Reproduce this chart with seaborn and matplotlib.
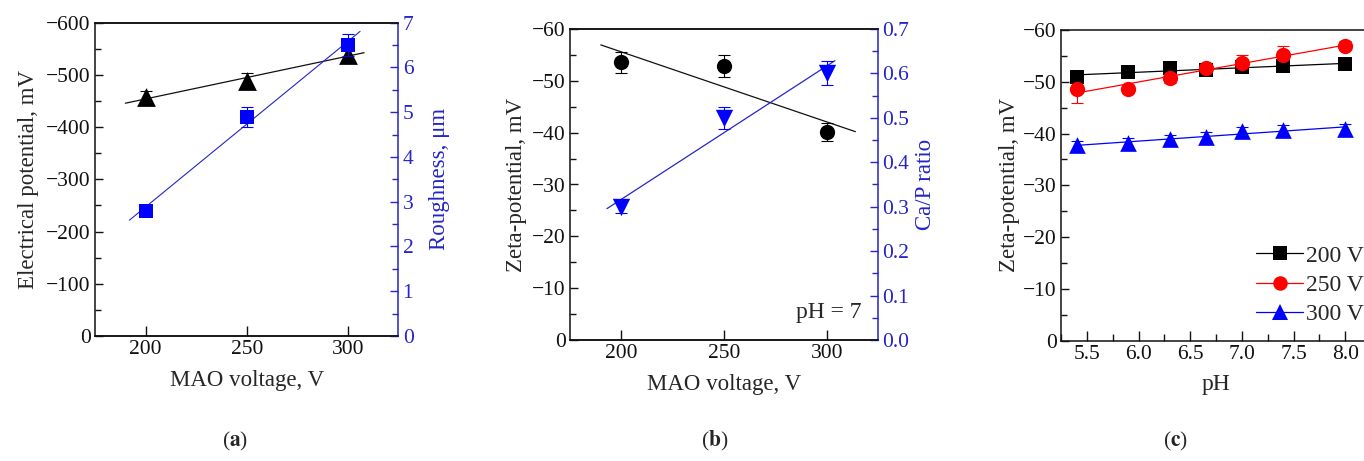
import numpy as np
import pandas as pd
import matplotlib
matplotlib.use("Agg")
import matplotlib.pyplot as plt
import seaborn as sns
from matplotlib.ticker import MultipleLocator, FormatStrFormatter
from matplotlib.lines import Line2D

# ---------------- data ----------------
voltage = [200, 250, 300]
elec_potential = [-457, -489, -539]
elec_err = [13, 15, 13]
roughness = [2.8, 4.9, 6.5]
rough_err = [0.05, 0.22, 0.25]

zeta_ph7 = [-53.6, -52.8, -40.1]
zeta_ph7_err = [2.0, 2.1, 1.8]
ca_p = [0.30, 0.50, 0.60]
ca_p_err = [0.015, 0.025, 0.027]

ph = [5.4, 5.9, 6.3, 6.65, 7.0, 7.4, 8.0]
zeta_200 = [-51.0, -51.8, -52.6, -52.3, -52.8, -53.0, -53.4]
zeta_200_err = [1.0, 0.6, 0.8, 0.8, 0.8, 1.0, 0.6]
zeta_250 = [-48.6, -48.6, -50.7, -52.6, -53.6, -55.2, -57.0]
zeta_250_err = [2.7, 0.8, 1.0, 0.8, 1.5, 1.8, 0.8]
zeta_300 = [-37.7, -38.2, -38.9, -39.4, -40.4, -40.7, -40.9]
zeta_300_err = [0.9, 0.9, 0.9, 0.9, 0.9, 0.9, 0.9]
series_labels = ["200 V", "250 V", "300 V"]

BLUE = "#0000ff"
AXBLUE = "#2525c8"
RED = "#ff0000"

sns.set_theme(style="ticks")
plt.rcParams["font.family"] = ["Liberation Serif", "DejaVu Serif"]
plt.rcParams["mathtext.fontset"] = "stix"
plt.rcParams["axes.linewidth"] = 1.1
plt.rcParams["axes.edgecolor"] = "#111111"

TICK_FS = 15.5
LAB_FS = 16.5

fig = plt.figure(figsize=(13.64, 4.61), dpi=100)
W, H = 1364.0, 461.0


def axes_px(l, t, r, b):
    return fig.add_axes([l / W, 1 - b / H, (r - l) / W, (b - t) / H])


def style_axis(ax, color="#111111", which="y"):
    ax.tick_params(axis=which, which="major", direction="in", length=6, width=1.0,
                   labelsize=TICK_FS, colors=color, pad=3)
    ax.tick_params(axis=which, which="minor", direction="in", length=4, width=1.0,
                   colors=color)


def fit_line(ax, x, y, color, lo, hi, lw=0.9):
    k, b = np.polyfit(x, y, 1)
    xs = np.array([lo, hi])
    d = pd.DataFrame({"x": xs, "y": k * xs + b})
    sns.lineplot(data=d, x="x", y="y", ax=ax, color=color, lw=lw, legend=False)


def points(ax, x, y, err, color, marker, size, zorder=5, cap=4.5):
    ax.errorbar(x, y, yerr=err, fmt="none", ecolor=color, elinewidth=0.8,
                capsize=cap, capthick=0.8, zorder=zorder - 1)
    d = pd.DataFrame({"x": x, "y": y})
    sns.scatterplot(data=d, x="x", y="y", ax=ax, color=color, marker=marker,
                    s=size ** 2, edgecolor=color, linewidth=0, zorder=zorder,
                    legend=False)


# ---------------- panel (a) ----------------
axa = axes_px(95, 22.7, 398.5, 336)
axa2 = axa.twinx()
fit_line(axa, voltage, elec_potential, "#111111", min(voltage) - 10, max(voltage) + 8)
points(axa, voltage, elec_potential, elec_err, "black", "^", 13.5)
fit_line(axa2, voltage, roughness, AXBLUE, min(voltage) - 8, max(voltage) + 6, lw=0.8)
points(axa2, voltage, roughness, rough_err, BLUE, "s", 10)

axa.set_xlim(175, 325)
axa.set_ylim(0, -600)
axa.set_yticks([0, -100, -200, -300, -400, -500, -600])
axa.yaxis.set_minor_locator(MultipleLocator(50))
axa.set_xticks(voltage)
axa2.set_ylim(0, 7)
axa2.yaxis.set_major_locator(MultipleLocator(1))
axa2.yaxis.set_minor_locator(MultipleLocator(0.5))
style_axis(axa, which="y")
style_axis(axa, which="x")
axa.tick_params(axis="x", which="major", length=7)
style_axis(axa2, color=AXBLUE, which="y")
axa.spines["right"].set_visible(False)
axa2.spines["right"].set_color(AXBLUE)
axa2.spines["left"].set_visible(False)
axa.set_xlabel("MAO voltage, V", fontsize=LAB_FS, labelpad=8)
axa.set_ylabel("Electrical potential, mV", fontsize=LAB_FS, labelpad=5)
axa2.set_ylabel("Roughness, μm", fontsize=LAB_FS, color=AXBLUE, labelpad=11)

# ---------------- panel (b) ----------------
axb = axes_px(570, 29, 878, 340)
axb2 = axb.twinx()
fit_line(axb, voltage, zeta_ph7, "#111111", min(voltage) - 10, max(voltage) + 14)
points(axb, voltage, zeta_ph7, zeta_ph7_err, "black", "o", 11)
fit_line(axb2, voltage, ca_p, AXBLUE, min(voltage) - 7, max(voltage) + 4)
points(axb2, voltage, ca_p, ca_p_err, BLUE, "v", 12.5)

axb.set_xlim(175, 325)
axb.set_ylim(0, -60)
axb.set_yticks([0, -10, -20, -30, -40, -50, -60])
axb.yaxis.set_minor_locator(MultipleLocator(5))
axb.set_xticks(voltage)
axb2.set_ylim(0, 0.7)
axb2.yaxis.set_major_locator(MultipleLocator(0.1))
axb2.yaxis.set_minor_locator(MultipleLocator(0.05))
axb2.yaxis.set_major_formatter(FormatStrFormatter("%.1f"))
style_axis(axb, which="y")
style_axis(axb, which="x")
axb.tick_params(axis="x", which="major", length=7)
style_axis(axb2, color=AXBLUE, which="y")
axb.spines["right"].set_visible(False)
axb2.spines["right"].set_color(AXBLUE)
axb2.spines["left"].set_visible(False)
axb.set_xlabel("MAO voltage, V", fontsize=LAB_FS, labelpad=8)
axb.set_ylabel("Zeta-potential, mV", fontsize=LAB_FS, labelpad=4)
axb2.set_ylabel("Ca/P ratio", fontsize=LAB_FS, color=AXBLUE, labelpad=4)
axb.text(0.948, 0.087, "pH = 7", transform=axb.transAxes, ha="right",
         va="center", fontsize=LAB_FS + 0.5)

# ---------------- panel (c) ----------------
axc = axes_px(1061, 30, 1371, 340.7)
c_series = [(zeta_200, zeta_200_err, "black", "s", 10),
            (zeta_250, zeta_250_err, RED, "o", 11),
            (zeta_300, zeta_300_err, BLUE, "^", 12)]
handles = []
for (vals, errs, col, mk, ms), lab in zip(c_series, series_labels):
    fit_line(axc, ph, vals, col, min(ph), max(ph), lw=0.9)
    points(axc, ph, vals, errs, col, mk, ms, cap=4)
    handles.append(Line2D([], [], color=col, lw=0.9, marker=mk, markersize=ms * 0.95,
                          markeredgewidth=0, label=lab))

axc.set_xlim(5.25, 8.25)
axc.set_ylim(0, -60)
axc.set_yticks([0, -10, -20, -30, -40, -50, -60])
axc.yaxis.set_minor_locator(MultipleLocator(5))
axc.xaxis.set_major_locator(MultipleLocator(0.5))
axc.xaxis.set_minor_locator(MultipleLocator(0.25))
axc.xaxis.set_major_formatter(FormatStrFormatter("%.1f"))
style_axis(axc, which="y")
style_axis(axc, which="x")
axc.tick_params(axis="x", which="major", length=7)
axc.tick_params(axis="x", which="minor", length=5)
axc.set_xlabel("pH", fontsize=LAB_FS + 0.5, labelpad=7)
axc.set_ylabel("Zeta-potential, mV", fontsize=LAB_FS, labelpad=2)
axc.legend(handles=handles, loc="upper left", bbox_to_anchor=(1256 / W, 1 - 245 / H),
           bbox_transform=fig.transFigure, frameon=False, fontsize=LAB_FS + 0.5,
           handlelength=2.0, handletextpad=0.1, labelspacing=0.33, borderpad=0,
           borderaxespad=0)

# ---------------- panel letters ----------------
for xp, letter in [(235, "a"), (715, "b"), (1175, "c")]:
    fig.text(xp / W, 1 - 441 / H, "(" + r"$\mathbf{" + letter + "}$" + ")",
             ha="center", va="center", fontsize=15.5)

fig.savefig("out.png", dpi=100)
